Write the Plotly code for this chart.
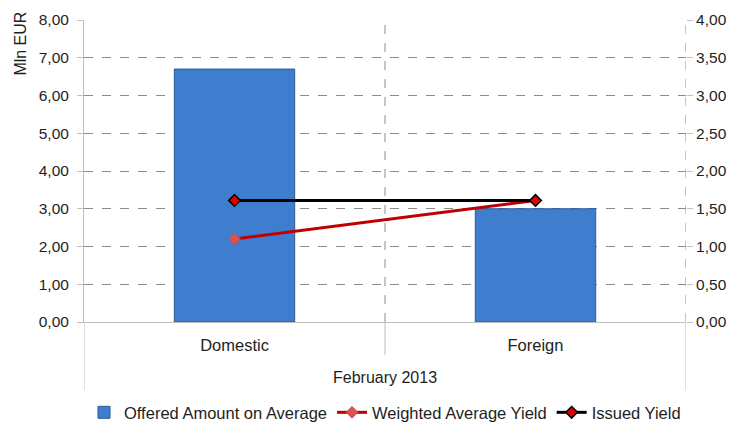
import plotly.graph_objects as go

categories = ["Domestic", "Foreign"]
group_label = "February 2013"
offered_amount = [6.70, 3.00]
weighted_avg_yield = [1.10, 1.61]
issued_yield = [1.61, 1.61]

FONT = "Liberation Sans"
TXT = "#1e1e1e"
FS = 15.5

fig = go.Figure()
fig.add_trace(go.Bar(
    x=categories, y=offered_amount, name="Offered Amount on Average",
    width=0.4, marker=dict(color="#3f7ecf", line=dict(color="#2a5a98", width=1)),
    yaxis="y",
))
fig.add_trace(go.Scatter(
    x=categories, y=weighted_avg_yield, name="Weighted Average Yield",
    mode="lines+markers", line=dict(color="#c00000", width=3),
    marker=dict(symbol="diamond", size=9, color="#d9534f", line=dict(color="#c0504d", width=1)),
    yaxis="y2",
))
fig.add_trace(go.Scatter(
    x=categories, y=issued_yield, name="Issued Yield",
    mode="lines+markers", line=dict(color="#000000", width=3),
    marker=dict(symbol="diamond", size=9, color="#e00000", line=dict(color="#000000", width=1.5)),
    yaxis="y2",
))

shapes = []
for xv, y1 in [(-0.5, -0.225), (0.5, -0.11), (1.5, -0.225)]:
    shapes.append(dict(type="line", xref="x", yref="paper", x0=xv, x1=xv, y0=0, y1=y1,
                       line=dict(color="#bfbfbf", width=1)))
for xv in [0.5, 1.5]:
    shapes.append(dict(type="line", xref="x", yref="paper", x0=xv, x1=xv, y0=0, y1=1,
                       line=dict(color="#8c8c8c", width=1, dash="dash")))

fig.update_layout(
    width=732, height=415,
    margin=dict(l=76, r=54, t=12, b=101, autoexpand=False),
    paper_bgcolor="white", plot_bgcolor="white",
    separators=", ",
    font=dict(family=FONT, size=FS, color=TXT),
    showlegend=True,
    legend=dict(orientation="h", x=0.5, xanchor="center", y=-0.30, yanchor="middle",
                font=dict(size=16.5, color=TXT), tracegroupgap=0),
    xaxis=dict(type="category", range=[-0.5, 1.5], showgrid=False, ticks="",
               showline=True, linecolor="#bfbfbf", linewidth=1, automargin=False,
               tickfont=dict(size=16.5, color=TXT), ticklabelstandoff=8),
    yaxis=dict(range=[0, 8], dtick=1, tickformat=".2f", showgrid=True,
               gridcolor="#8c8c8c", griddash="dash", gridwidth=1,
               showline=True, linecolor="#bfbfbf", linewidth=1, automargin=False,
               ticks="outside", ticklen=6, tickcolor="#bfbfbf", ticklabelstandoff=5,
               zeroline=False, tickfont=dict(size=FS, color=TXT)),
    yaxis2=dict(range=[0, 4], dtick=0.5, tickformat=".2f", overlaying="y", side="right",
                showgrid=False, showline=False, ticks="outside", ticklen=6, tickcolor="#bfbfbf",
                automargin=False, zeroline=False, tickfont=dict(size=FS, color=TXT)),
    shapes=shapes,
    annotations=[
        dict(text="Mln EUR", xref="paper", yref="paper", x=-0.106, y=1.035, xanchor="center",
             yanchor="top", textangle=-90, showarrow=False, font=dict(size=16, color=TXT)),
        dict(text=group_label, xref="paper", yref="paper", x=0.5, y=-0.185, xanchor="center",
             yanchor="middle", showarrow=False, font=dict(size=16, color=TXT)),
    ],
)

fig.write_html("out.html")
